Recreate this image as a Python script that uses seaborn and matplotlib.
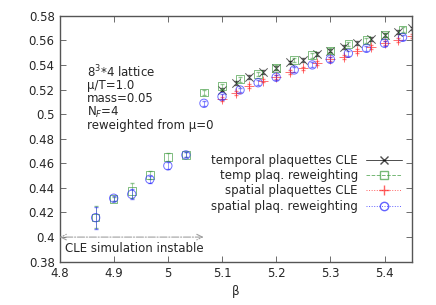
import numpy as np
import pandas as pd
import seaborn as sns
import matplotlib
matplotlib.use("Agg")
import matplotlib.pyplot as plt
from matplotlib.lines import Line2D

# CLE runs (beta from 5.1 in steps of 0.025)
beta_cle = [5.1, 5.125, 5.15, 5.175, 5.2, 5.225, 5.25, 5.275, 5.3, 5.325,
            5.35, 5.375, 5.4, 5.425, 5.45]
temp_cle = [0.520, 0.5255, 0.5304, 0.5345, 0.5377, 0.542, 0.544, 0.5489,
            0.5516, 0.5543, 0.558, 0.5608, 0.5643, 0.567, 0.5697]
temp_cle_err = [0.0015] * 15
spat_cle = [0.512, 0.5174, 0.5228, 0.5272, 0.530, 0.5345, 0.5372, 0.5413,
            0.5446, 0.5467, 0.5515, 0.5543, 0.5576, 0.5603, 0.5635]
spat_cle_err = [0.0015] * 15

# reweighting from mu=0
beta_rw = [4.8667, 4.9, 4.9333, 4.9667, 5.0, 5.0333, 5.0667, 5.1, 5.1333,
           5.1667, 5.2, 5.2333, 5.2667, 5.3, 5.3333, 5.3667, 5.4, 5.4333]
temp_rw = [0.416, 0.431, 0.4377, 0.4505, 0.465, 0.467, 0.5177, 0.5228, 0.5283,
           0.5326, 0.5377, 0.544, 0.548, 0.5516, 0.557, 0.560, 0.5643, 0.5689]
temp_rw_err = [0.009, 0.002, 0.006, 0.003, 0.003, 0.002, 0.002, 0.002, 0.002,
               0.002, 0.002, 0.002, 0.002, 0.002, 0.002, 0.002, 0.002, 0.002]
spat_rw = [0.4158, 0.4316, 0.4348, 0.447, 0.458, 0.4668, 0.5088, 0.5142, 0.5196,
           0.5255, 0.530, 0.5359, 0.540, 0.5446, 0.5494, 0.5535, 0.5576, 0.5624]
spat_rw_err = [0.009, 0.002, 0.004, 0.003, 0.003, 0.002, 0.002, 0.002, 0.002,
               0.002, 0.002, 0.002, 0.002, 0.002, 0.002, 0.002, 0.002, 0.002]

sns.set_style("ticks")
plt.rcParams['font.family'] = ['DejaVu Sans']
plt.rcParams['xtick.direction'] = 'in'
plt.rcParams['ytick.direction'] = 'in'

fig = plt.figure(figsize=(4.36, 3.05), dpi=100)
ax = fig.add_axes([0.1365, 0.142, 0.8075, 0.8065])

series = [
    ("temporal plaquettes CLE", beta_cle, temp_cle, temp_cle_err, "#000000", "x", "-", 6),
    ("temp plaq. reweighting", beta_rw, temp_rw, temp_rw_err, "#3c9a3c", "s", "--", 5.5),
    ("spatial plaquettes CLE", beta_cle, spat_cle, spat_cle_err, "#ff2020", "+", ":", 7),
    ("spatial plaq. reweighting", beta_rw, spat_rw, spat_rw_err, "#2020ff", "o", ":", 6),
]

handles = []
for label, bx, vals, errs, col, mk, ls, ms in series:
    df = pd.DataFrame({"beta": bx, "val": vals})
    ax.errorbar(bx, vals, yerr=errs, fmt="none", ecolor=col, elinewidth=0.6,
                capsize=1.5, alpha=0.55, linestyle=ls)
    sns.scatterplot(data=df, x="beta", y="val", ax=ax, marker=mk, s=ms ** 2,
                    facecolor="none" if mk in ("s", "o") else col,
                    edgecolor=col, color=col, linewidth=0.7, alpha=0.65,
                    legend=False)
    handles.append(Line2D([0], [0], color=col, linestyle=ls, linewidth=0.7,
                          marker=mk, markersize=ms, markerfacecolor="none",
                          markeredgecolor=col, alpha=0.7, label=label))

ax.annotate("", xy=(4.8, 0.4), xytext=(5.066, 0.4),
            arrowprops=dict(arrowstyle="<->", color="#a0a0a0", linestyle="-.",
                            linewidth=0.8, shrinkA=0, shrinkB=0))
ax.text(4.81, 0.3905, "CLE simulation instable", fontsize=8.5, va="center")

info = ["$8^3$*4 lattice", "μ/T=1.0", "mass=0.05", "N$_F$=4",
        "reweighted from μ=0"]
for i, line in enumerate(info):
    ax.text(4.851, 0.534 - i * 0.0108, line, fontsize=8.5, va="center")

ax.legend(handles=handles, loc="lower right", bbox_to_anchor=(0.995, 0.165),
          frameon=False, markerfirst=False, fontsize=8.5, handlelength=3.0,
          labelspacing=0.2, handletextpad=0.7, borderpad=0.2)

ax.set_xlim(4.8, 5.45)
ax.set_ylim(0.38, 0.58)
ax.set_xticks([4.8, 4.9, 5.0, 5.1, 5.2, 5.3, 5.4])
ax.set_xticklabels(["4.8", "4.9", "5", "5.1", "5.2", "5.3", "5.4"])
ax.set_yticks(np.arange(0.38, 0.581, 0.02))
ax.set_yticklabels(["0.38", "0.4", "0.42", "0.44", "0.46", "0.48", "0.5",
                    "0.52", "0.54", "0.56", "0.58"])
ax.tick_params(top=True, right=True, labelsize=8.5, length=4, width=0.6,
               color="#555555")
for sp in ax.spines.values():
    sp.set_visible(True)
    sp.set_linewidth(1.0)
    sp.set_color("#555555")
ax.set_xlabel("β", fontsize=8.5)
ax.set_ylabel("")

fig.savefig("out.png", dpi=100)
